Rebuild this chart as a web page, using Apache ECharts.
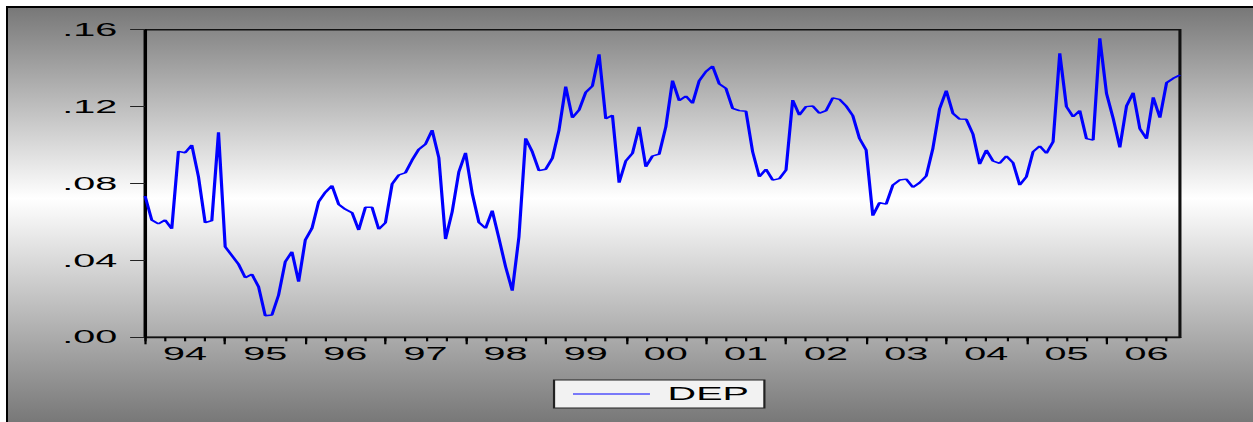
<!DOCTYPE html>
<html>
<head>
<meta charset="utf-8">
<script src="https://cdn.jsdelivr.net/npm/echarts@6/dist/echarts.min.js"></script>
<style>
  html, body { margin: 0; padding: 0; background: #fff; }
  /* outer EViews-like frame with grey-white-grey gradient */
  #frame {
    position: absolute; left: 6px; top: 6px; width: 1245px; height: 414px;
    border-left: 2px solid #000; border-top: 2px solid #000;
    background: linear-gradient(to bottom, #787878 0%, #ffffff 46%, #787878 100%);
    overflow: hidden;
  }
  /* the original graph is stretched horizontally, so draw at 1/2.2 width and stretch */
  #main { width: 566px; height: 414px; transform: scaleX(2.2); transform-origin: 0 0; }
</style>
</head>
<body>
<div id="frame"><div id="main"></div></div>
<script>
// years shown on the axis, monthly data 1994M01 - 2006M12
const years = ['94', '95', '96', '97', '98', '99', '00', '01', '02', '03', '04', '05', '06'];
const yLabels = ['.00', '.04', '.08', '.12', '.16'];

// DEP, one row per year
const dep = [
  0.0735, 0.0610, 0.0590, 0.0610, 0.0565, 0.0967, 0.0960, 0.1000, 0.0835, 0.0596, 0.0607, 0.1066,
  0.0471, 0.0426, 0.0380, 0.0310, 0.0328, 0.0263, 0.0112, 0.0116, 0.0220, 0.0393, 0.0445, 0.0289,
  0.0506, 0.0567, 0.0705, 0.0754, 0.0789, 0.0692, 0.0666, 0.0648, 0.0558, 0.0676, 0.0676, 0.0562,
  0.0596, 0.0797, 0.0844, 0.0856, 0.0922, 0.0978, 0.1005, 0.1078, 0.0934, 0.0511, 0.0653, 0.0861,
  0.0960, 0.0749, 0.0598, 0.0567, 0.0659, 0.0515, 0.0367, 0.0242, 0.0523, 0.1035, 0.0965, 0.0867,
  0.0874, 0.0931, 0.1078, 0.1304, 0.1142, 0.1182, 0.1274, 0.1307, 0.1472, 0.1137, 0.1155, 0.0804,
  0.0917, 0.0957, 0.1095, 0.0887, 0.0943, 0.0953, 0.1095, 0.1335, 0.1231, 0.1255, 0.1217, 0.1335,
  0.1382, 0.1411, 0.1318, 0.1295, 0.1191, 0.1179, 0.1176, 0.0965, 0.0835, 0.0874, 0.0818, 0.0825,
  0.0870, 0.1234, 0.1156, 0.1200, 0.1203, 0.1165, 0.1179, 0.1245, 0.1238, 0.1203, 0.1153, 0.1035,
  0.0974, 0.0633, 0.0700, 0.0693, 0.0792, 0.0818, 0.0823, 0.0780, 0.0804, 0.0839, 0.0983, 0.1188,
  0.1283, 0.1165, 0.1135, 0.1134, 0.1057, 0.0901, 0.0974, 0.0917, 0.0905, 0.0943, 0.0908, 0.0792,
  0.0835, 0.0965, 0.0995, 0.0957, 0.1017, 0.1477, 0.1200, 0.1147, 0.1179, 0.1033, 0.1026, 0.1555,
  0.1269, 0.1139, 0.0988, 0.1203, 0.1272, 0.1085, 0.1033, 0.1248, 0.1142, 0.1324, 0.1347, 0.1364
];

// month categories like "94M01"
const months = [];
years.forEach(function (y) {
  for (let m = 1; m <= 12; m++) months.push(y + 'M' + (m < 10 ? '0' + m : m));
});

const font = 'Liberation Sans, Arial, sans-serif';
const chart = echarts.init(document.getElementById('main'), null, { renderer: 'svg' });

chart.setOption({
  animation: false,
  grid: {
    left: 62.3, right: 33.3, top: 21.7, bottom: 84.7,
    show: true, borderColor: '#111', borderWidth: 1.4, backgroundColor: 'transparent',
    outerBoundsMode: 'none'
  },
  legend: {
    left: 248.2, top: 372,
    padding: [5, 7, 5, 8.6],
    backgroundColor: '#f2f2f2', borderColor: '#222', borderWidth: 1,
    icon: 'rect', itemWidth: 35, itemHeight: 1,
    itemStyle: { color: '#0000ff' },
    textStyle: { fontFamily: font, fontSize: 18, color: '#000', padding: [0, 0, 0, 3] },
    data: ['DEP']
  },
  xAxis: [
    {
      type: 'category', data: months, boundaryGap: false,
      axisLine: { lineStyle: { color: '#111', width: 1.4 } },
      axisTick: { interval: function (i) { return i % 3 === 0; }, length: 4, lineStyle: { color: '#000', width: 1 } },
      axisLabel: {
        interval: function (i) { return i % 12 === 6; },
        formatter: function (v) { return v.slice(0, 2); },
        margin: 8, fontFamily: font, fontSize: 18, color: '#000'
      },
      splitLine: { show: false }
    },
    {
      // longer ticks at the start of each year
      type: 'category', data: months, boundaryGap: false, position: 'bottom',
      axisLine: { show: false },
      axisTick: { interval: function (i) { return i % 12 === 0; }, length: 7, lineStyle: { color: '#000', width: 1 } },
      axisLabel: { show: false },
      splitLine: { show: false }
    }
  ],
  yAxis: {
    type: 'value', min: 0, max: 0.16, interval: 0.04,
    axisLine: { show: true, lineStyle: { color: '#000', width: 1.4 } },
    axisTick: { show: true, length: 6.8, lineStyle: { color: '#222', width: 1 } },
    axisLabel: {
      margin: 12.6, fontFamily: font, fontSize: 18, color: '#000',
      padding: [0, 0, 6, 0],
      formatter: function (v) { return yLabels[Math.round(v / 0.04)]; }
    },
    splitLine: { show: false }
  },
  series: [
    {
      name: 'DEP', type: 'line', data: dep, symbol: 'none',
      lineStyle: { color: '#0000ff', width: 1.45 },
      itemStyle: { color: '#0000ff' }
    }
  ]
});
</script>
</body>
</html>
